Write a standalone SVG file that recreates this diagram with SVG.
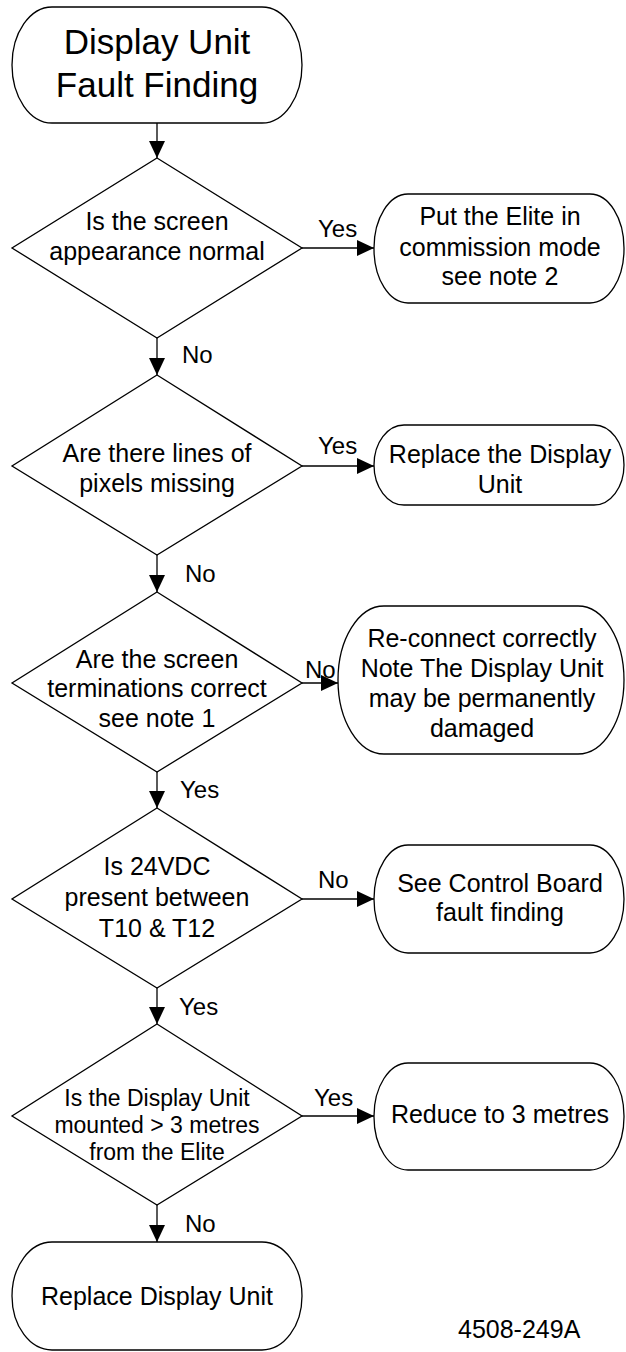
<svg xmlns="http://www.w3.org/2000/svg" width="626" height="1352" viewBox="0 0 626 1352">
<style>
.s{fill:#fff;stroke:#000;stroke-width:1.3}
.t{font-family:"Liberation Sans",Arial,sans-serif;font-size:25px;fill:#000;text-anchor:middle}
.l{font-family:"Liberation Sans",Arial,sans-serif;font-size:24px;fill:#000}
.c{stroke:#000;stroke-width:1.3;fill:none;marker-end:url(#ah)}
</style>
<defs>
<marker id="ah" markerWidth="17" markerHeight="16" refX="17" refY="8" orient="auto" markerUnits="userSpaceOnUse"><path d="M0,0 L17,8 L0,16 z" fill="#000"/></marker>
</defs>
<rect width="626" height="1352" fill="#fff"/>
<g id="connectors">
<line class="c" x1="157" y1="123" x2="157" y2="158"/>
<line class="c" x1="302" y1="248" x2="374" y2="248"/>
<line class="c" x1="157" y1="338" x2="157" y2="375"/>
<line class="c" x1="302" y1="466" x2="374" y2="466"/>
<line class="c" x1="157" y1="555" x2="157" y2="592"/>
<line class="c" x1="302" y1="683" x2="338" y2="683"/>
<line class="c" x1="157" y1="772" x2="157" y2="808"/>
<line class="c" x1="302" y1="899" x2="374" y2="899"/>
<line class="c" x1="157" y1="988" x2="157" y2="1024"/>
<line class="c" x1="302" y1="1116" x2="374" y2="1116"/>
<line class="c" x1="157" y1="1205" x2="157" y2="1242"/>
<text class="l" x="318" y="237">Yes</text>
<text class="l" x="182" y="363">No</text>
<text class="l" x="318" y="454">Yes</text>
<text class="l" x="185" y="582">No</text>
<text class="l" x="305" y="678">No</text>
<text class="l" x="180" y="798">Yes</text>
<text class="l" x="318" y="888">No</text>
<text class="l" x="179" y="1015">Yes</text>
<text class="l" x="314" y="1106">Yes</text>
<text class="l" x="185" y="1232">No</text>
</g>
<g id="start">
<rect class="s" x="12" y="7" width="290" height="116" rx="40" ry="58"/>
<text class="t" style="font-size:35px" x="157" y="54">Display Unit</text>
<text class="t" style="font-size:35px" x="157" y="97">Fault Finding</text>
</g>
<g id="d1">
<polygon class="s" points="157,158 302,248 157,338 12,248"/>
<text class="t" x="157" y="230">Is the screen</text>
<text class="t" x="157" y="260">appearance normal</text>
</g>
<g id="b1">
<rect class="s" x="374" y="194" width="250" height="109" rx="34" ry="54"/>
<text class="t" x="500" y="225">Put the Elite in</text>
<text class="t" x="500" y="256">commission mode</text>
<text class="t" x="500" y="285">see note 2</text>
</g>
<g id="d2">
<polygon class="s" points="157,375 302,466 157,555 12,466"/>
<text class="t" x="157" y="462">Are there lines of</text>
<text class="t" x="157" y="492">pixels missing</text>
</g>
<g id="b2">
<rect class="s" x="374" y="425" width="250" height="80" rx="30" ry="40"/>
<text class="t" x="500" y="463">Replace the Display</text>
<text class="t" x="500" y="493">Unit</text>
</g>
<g id="d3">
<polygon class="s" points="157,592 302,683 157,772 12,683"/>
<text class="t" x="157" y="668">Are the screen</text>
<text class="t" x="157" y="697">terminations correct</text>
<text class="t" x="157" y="727">see note 1</text>
</g>
<g id="b3">
<rect class="s" x="338" y="606" width="286" height="148" rx="46" ry="74"/>
<text class="t" x="482" y="647">Re-connect correctly</text>
<text class="t" x="482" y="677">Note The Display Unit</text>
<text class="t" x="482" y="707">may be permanently</text>
<text class="t" x="482" y="737">damaged</text>
</g>
<g id="d4">
<polygon class="s" points="157,808 302,899 157,988 12,899"/>
<text class="t" x="157" y="875">Is 24VDC</text>
<text class="t" x="157" y="906">present between</text>
<text class="t" x="157" y="937">T10 &amp; T12</text>
</g>
<g id="b4">
<rect class="s" x="374" y="845" width="250" height="108" rx="34" ry="54"/>
<text class="t" x="500" y="892">See Control Board</text>
<text class="t" x="500" y="921">fault finding</text>
</g>
<g id="d5">
<polygon class="s" points="157,1024 302,1116 157,1205 12,1116"/>
<text class="t" style="font-size:23px" x="157" y="1106">Is the Display Unit</text>
<text class="t" style="font-size:23px" x="157" y="1133">mounted &gt; 3 metres</text>
<text class="t" style="font-size:23px" x="157" y="1160">from the Elite</text>
</g>
<g id="b5">
<rect class="s" x="374" y="1063" width="250" height="107" rx="34" ry="53"/>
<text class="t" x="500" y="1123">Reduce to 3 metres</text>
</g>
<g id="end">
<rect class="s" x="12" y="1242" width="290" height="108" rx="40" ry="54"/>
<text class="t" x="157" y="1305">Replace Display Unit</text>
</g>
<text class="l" style="font-size:25px" x="458" y="1338">4508-249A</text>
</svg>
